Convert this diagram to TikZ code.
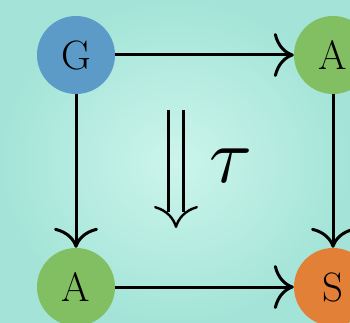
\documentclass[tikz,border=0pt]{standalone}
\usetikzlibrary{arrows.meta,calc}
\definecolor{bgin}{RGB}{204,245,235}
\definecolor{bgout}{RGB}{164,228,216}
\definecolor{nblue}{RGB}{92,155,200}
\definecolor{ngreen}{RGB}{130,190,98}
\definecolor{norange}{RGB}{226,128,56}
\tikzset{
  obj/.style={circle, minimum size=78pt, inner sep=0pt, text=black,
    font=\fontsize{41}{41}\selectfont},
  mor/.style={line width=3pt, -{Computer Modern Rightarrow[length=20pt,width=44pt]}},
  twoline/.style={line width=2.2pt},
  twotip/.style={line width=2.4pt, -{Computer Modern Rightarrow[length=22pt,width=44pt]}}
}
\begin{document}
\begin{tikzpicture}[x=1pt,y=-1pt]
  \useasboundingbox (0,0) rectangle (350,323);
  \shade[inner color=bgin, outer color=bgout] (0,0) rectangle (350,323);
  \node[obj, fill=nblue] (G) at (76,55) {G};
  \node[obj, fill=ngreen] (A1) at (333,55) {A};
  \node[obj, fill=ngreen] (A2) at (76,287) {A};
  \node[obj, fill=norange] (S) at (333,287) {S};
  \draw[mor] (G) -- (A1);
  \draw[mor] (G) -- (A2);
  \draw[mor] (A1) -- (S);
  \draw[mor] (A2) -- (S);
  \coordinate (t1) at (176,110);
  \coordinate (t2) at (176,228);
  \coordinate (t3) at (176,212);
  \draw[twoline] ($(t1)+(-7.5,0)$) -- ($(t3)+(-7.5,0)$);
  \draw[twoline] ($(t1)+(7.5,0)$) -- ($(t3)+(7.5,0)$);
  \draw[twotip] ($(t2)+(0,-1)$) -- (t2);
  \node[scale=7.8, inner sep=0pt] (tau) at (231,166) {$\tau$};
\end{tikzpicture}
\end{document}
